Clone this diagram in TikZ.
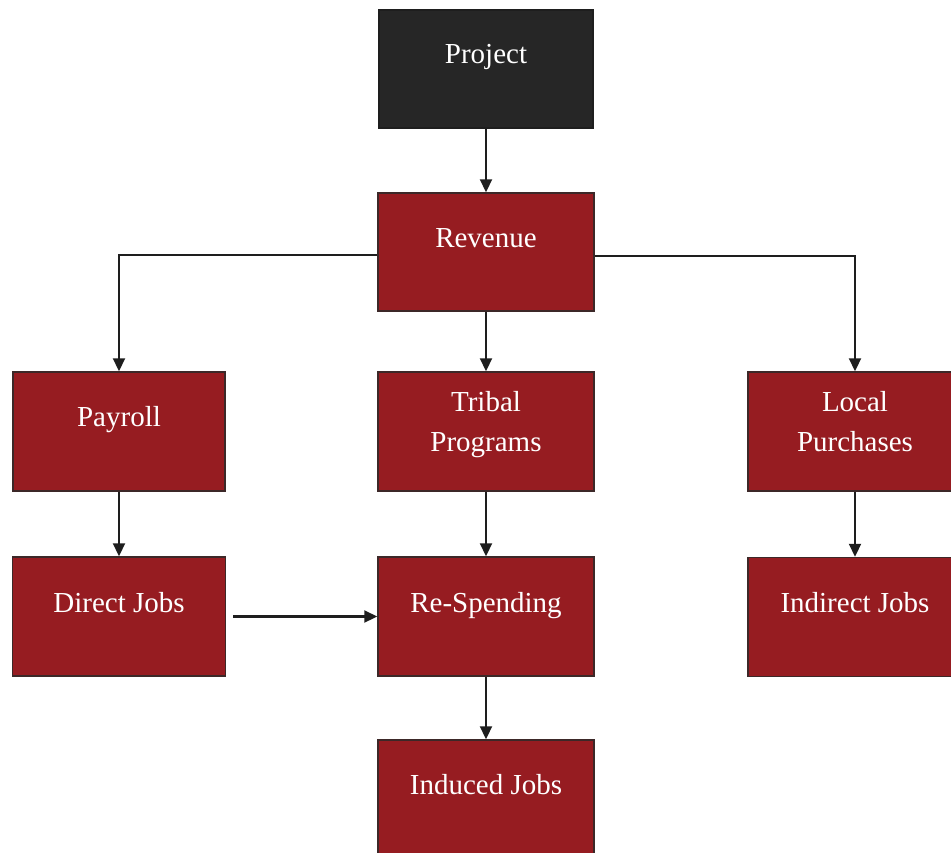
\documentclass[tikz,border=0pt]{standalone}
\usepackage{fontspec}
\setmainfont{Liberation Serif}
\usetikzlibrary{arrows.meta}
\definecolor{boxred}{RGB}{150,28,33}
\definecolor{boxdark}{RGB}{38,38,38}
\definecolor{edgecol}{RGB}{60,40,40}
\definecolor{linecol}{RGB}{30,30,30}
\tikzset{
  boxnode/.style={draw=edgecol, line width=1.5pt, fill=boxred, minimum height=118pt, inner sep=0pt},
  darkbox/.style={boxnode, fill=boxdark, draw=boxdark!80!black},
  lbl/.style={text=white, font=\fontsize{29}{40}\selectfont, anchor=base, inner sep=0pt, align=center},
  conn/.style={draw=linecol, line width=2.2pt, -{Triangle[length=13pt,width=12pt]}},
}
\begin{document}
\begin{tikzpicture}[x=1pt,y=-1pt]
\useasboundingbox (0,0) rectangle (951,852);
\fill[white] (0,0) rectangle (951,852);
\clip (0,0) rectangle (951,852);
% boxes
\node[darkbox, minimum width=214pt] (proj) at (486,69) {};
\node[boxnode, minimum width=216pt] (rev) at (486,252) {};
\node[boxnode, minimum width=212pt, minimum height=119pt] (pay) at (119,431.5) {};
\node[boxnode, minimum width=216pt, minimum height=119pt] (trib) at (486,431.5) {};
\node[boxnode, minimum width=214pt, minimum height=119pt] (loc) at (855,431.5) {};
\node[boxnode, minimum width=213pt, minimum height=119pt] (dir) at (119,616.5) {};
\node[boxnode, minimum width=216pt, minimum height=119pt] (resp) at (486,616.5) {};
\node[boxnode, minimum width=214pt, minimum height=119pt] (indj) at (855,617) {};
\node[boxnode, minimum width=216pt, minimum height=119pt] (indu) at (486,799.5) {};
% labels
\node[lbl] (tproj) at ([yshift=-54pt]proj.north) {Project};
\node[lbl] (trev) at ([yshift=-55pt]rev.north) {Revenue};
\node[lbl] (tpay) at ([yshift=-55pt]pay.north) {Payroll};
\node[lbl] (ttrib) at ([yshift=-80pt]trib.north) {Tribal\\Programs};
\node[lbl] (tloc) at ([yshift=-80pt]loc.north) {Local\\Purchases};
\node[lbl] (tdir) at ([yshift=-56pt]dir.north) {Direct Jobs};
\node[lbl] (tresp) at ([yshift=-56pt]resp.north) {Re-Spending};
\node[lbl] (tindj) at ([yshift=-56pt]indj.north) {Indirect Jobs};
\node[lbl] (tindu) at ([yshift=-55pt]indu.north) {Induced Jobs};
% connectors
\draw[conn] (proj.south) -- (rev.north);
\draw[conn] ([yshift=-3pt]rev.west) -| (pay.north);
\draw[conn] ([yshift=-4pt]rev.east) -| (loc.north);
\draw[conn] (rev.south) -- (trib.north);
\draw[conn] (pay.south) -- (dir.north);
\draw[conn] (trib.south) -- (resp.north);
\draw[conn] (loc.south) -- (indj.north);
\draw[conn, shorten <=7pt] (dir.east) -- (resp.west);
\draw[conn] (resp.south) -- (indu.north);
\end{tikzpicture}
\end{document}
